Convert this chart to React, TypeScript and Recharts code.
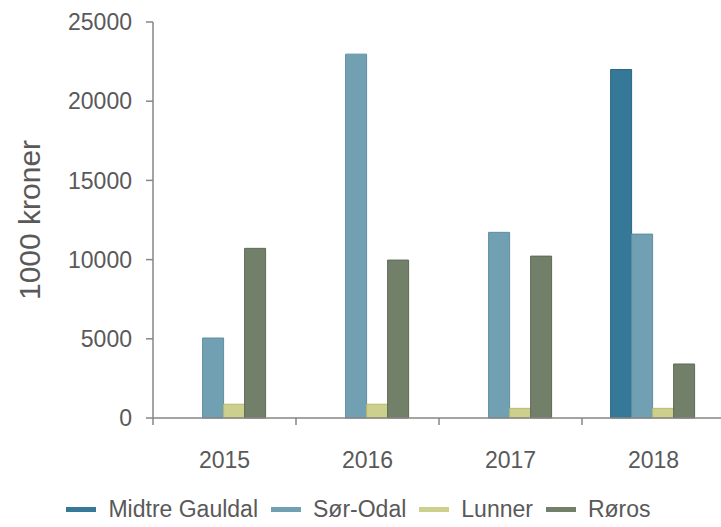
import { BarChart, Bar, XAxis, YAxis, Legend, Label } from 'recharts'

const years = ['2015', '2016', '2017', '2018']
const midtreGauldal = [null, null, null, 22000]
const sorOdal = [5050, 22970, 11720, 11610]
const lunner = [870, 870, 610, 610]
const roros = [10710, 9970, 10220, 3410]
const yTicks = [0, 5000, 10000, 15000, 20000, 25000]

const series = [
  { key: 'midtre', name: 'Midtre Gauldal', fill: '#357897', stroke: '#2b6782' },
  { key: 'sor', name: 'Sør-Odal', fill: '#72a0b3', stroke: '#5f8ea2' },
  { key: 'lunner', name: 'Lunner', fill: '#cdcf8c', stroke: '#b6b873' },
  { key: 'roros', name: 'Røros', fill: '#728069', stroke: '#5e6b57' },
]

const data = years.map((year, i) => ({
  year,
  midtre: midtreGauldal[i],
  sor: sorOdal[i],
  lunner: lunner[i],
  roros: roros[i],
}))

const WIDTH = 730
const HEIGHT = 527
const Y_AXIS_W = 153
const MARGIN = { top: 22, right: 5, bottom: 79, left: 0 }
const BAND = (WIDTH - Y_AXIS_W - MARGIN.left - MARGIN.right) / years.length
const TEXT = '#595959'
const AXIS = '#868686'
const FONT = '"Liberation Sans", Arial, sans-serif'

// Excel-style: tick marks sit on the category boundaries, labels in the middle
function YearTick(props: any) {
  const { x, y, payload } = props
  const left = x - BAND / 2
  return (
    <g>
      <line x1={left} x2={left} y1={y} y2={y + 7} stroke={AXIS} strokeWidth={1.5} />
      <text x={x} y={y + 34} dy="0.71em" textAnchor="middle" fill={TEXT} fontSize={23} fontFamily={FONT}>
        {payload.value}
      </text>
    </g>
  )
}

function LegendRow() {
  return (
    <div style={{ display: 'flex', justifyContent: 'center', alignItems: 'center', fontFamily: FONT, fontSize: 23, color: TEXT }}>
      {series.map((s) => (
        <div key={s.key} style={{ display: 'flex', alignItems: 'center', marginRight: 13 }}>
          <span style={{ display: 'inline-block', width: 30, height: 5, background: s.fill, marginRight: 12 }} />
          <span>{s.name}</span>
        </div>
      ))}
    </div>
  )
}

export default function App() {
  return (
    <div style={{ position: 'absolute', left: 0, top: 0, width: 721, height: 527, overflow: 'hidden', background: '#fff' }}>
      <BarChart width={WIDTH} height={HEIGHT} data={data} margin={MARGIN} barCategoryGap="20%" barGap={0}>
        <XAxis
          dataKey="year"
          stroke={AXIS}
          strokeWidth={1.5}
          tickLine={false}
          tickSize={0}
          tickMargin={0}
          height={30}
          tick={<YearTick />}
        />
        <YAxis
          domain={[0, 25000]}
          ticks={yTicks}
          width={Y_AXIS_W}
          stroke={AXIS}
          strokeWidth={1.5}
          tickSize={7}
          tickMargin={14}
          tick={{ fill: TEXT, fontSize: 23, fontFamily: FONT }}
        >
          <Label
            value="1000 kroner"
            angle={-90}
            position="center"
            dx={-47}
            fill={TEXT}
            fontSize={30}
            fontFamily={FONT}
          />
        </YAxis>
        <Legend
          verticalAlign="middle"
          align="center"
          wrapperStyle={{ top: 496, left: 0, width: WIDTH }}
          content={() => <LegendRow />}
        />
        {series.map((s) => (
          <Bar
            key={s.key}
            dataKey={s.key}
            name={s.name}
            fill={s.fill}
            stroke={s.stroke}
            strokeWidth={1}
            isAnimationActive={false}
          />
        ))}
      </BarChart>
    </div>
  )
}
